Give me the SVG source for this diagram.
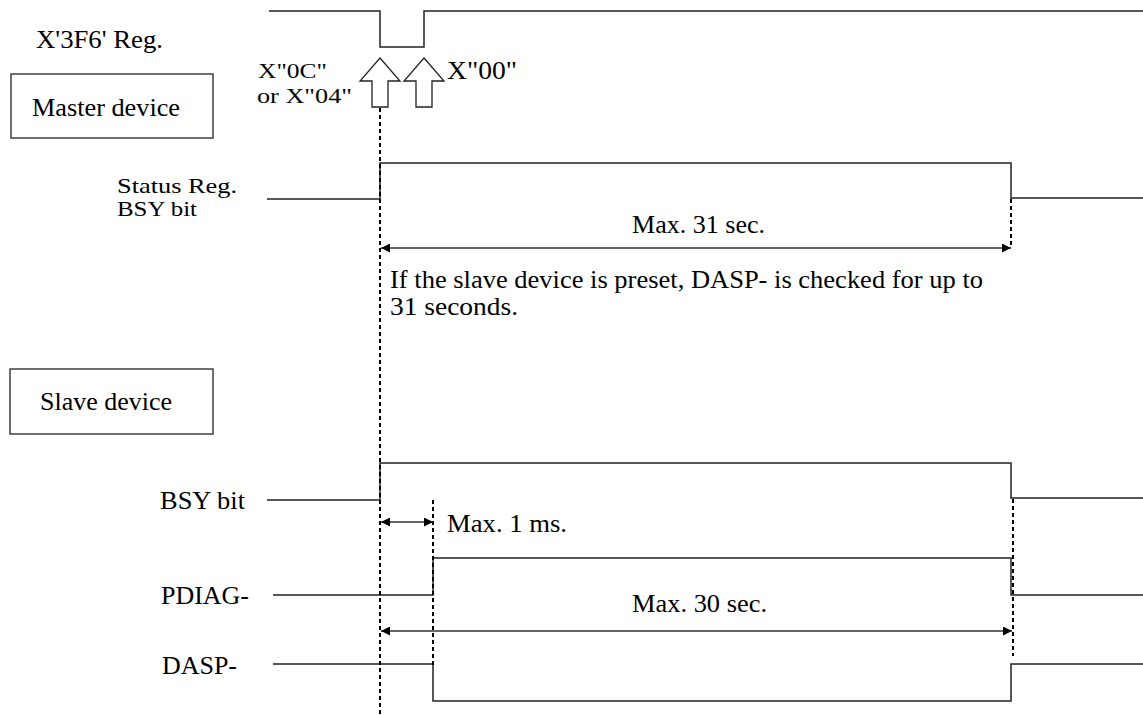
<svg xmlns="http://www.w3.org/2000/svg" width="1143" height="715" viewBox="0 0 1143 715" font-family="Liberation Serif">
<style>
text{font-family:"Liberation Serif",serif;font-size:25px;fill:#000}
.sm{font-size:22px}
.sig{fill:none;stroke:#222;stroke-width:1.5}
.dot{fill:none;stroke:#000;stroke-width:2;stroke-dasharray:4 3}
.dim{fill:none;stroke:#333;stroke-width:1.5;marker-start:url(#ah);marker-end:url(#ah)}
.box{fill:#fff;stroke:#222;stroke-width:1.3}
.harrow{fill:#fff;stroke:#222;stroke-width:1.3}
</style>
<defs>
<marker id="ah" viewBox="0 0 10 10" refX="10" refY="5" markerWidth="10" markerHeight="9" markerUnits="userSpaceOnUse" orient="auto-start-reverse">
<path d="M0,0 L10,5 L0,10 Z" fill="#000"/>
</marker>
</defs>
<rect width="1143" height="715" fill="#fff"/>

<g id="reg3f6">
<text x="36" y="48" textLength="127" lengthAdjust="spacingAndGlyphs">X'3F6' Reg.</text>
<path class="sig" d="M269,11 H380 V47 H424 V11 H1143"/>
<polygon class="harrow" points="380,58 400,81 388,81 388,107 372,107 372,81 360,81"/>
<polygon class="harrow" points="424,58 444,81 432,81 432,107 416,107 416,81 404,81"/>
<text class="sm" x="258" y="78" textLength="69" lengthAdjust="spacingAndGlyphs">X"0C"</text>
<text class="sm" x="257" y="103" textLength="95" lengthAdjust="spacingAndGlyphs">or X"04"</text>
<text x="447" y="79" textLength="70" lengthAdjust="spacingAndGlyphs">X"00"</text>
</g>

<g id="master">
<rect class="box" x="11" y="74" width="202" height="64"/>
<text x="32" y="116" textLength="148" lengthAdjust="spacingAndGlyphs">Master device</text>
</g>

<g id="status-bsy">
<text class="sm" x="117" y="193" textLength="120" lengthAdjust="spacingAndGlyphs">Status Reg.</text>
<text class="sm" x="117" y="216" textLength="80" lengthAdjust="spacingAndGlyphs">BSY bit</text>
<path class="sig" d="M267,199 H380 V163 H1011 V198 H1143"/>
</g>

<g id="slave">
<rect class="box" x="10" y="369" width="203" height="65"/>
<text x="40" y="410" textLength="132" lengthAdjust="spacingAndGlyphs">Slave device</text>
</g>

<g id="slave-bsy">
<text x="160" y="509" textLength="85" lengthAdjust="spacingAndGlyphs">BSY bit</text>
<path class="sig" d="M267,500 H380 V463 H1011 V498 H1143"/>
</g>

<g id="pdiag">
<text x="161" y="604" textLength="88" lengthAdjust="spacingAndGlyphs">PDIAG-</text>
<path class="sig" d="M273,595 H433 V558 H1011 V595 H1143"/>
</g>

<g id="dasp">
<text x="162" y="674" textLength="75" lengthAdjust="spacingAndGlyphs">DASP-</text>
<path class="sig" d="M273,664 H433 V701 H1011 V664 H1143"/>
</g>

<g id="connectors">
<line class="dot" x1="380" y1="108" x2="380" y2="715"/>
<line class="dot" x1="1011" y1="199" x2="1011" y2="248"/>
<line class="dot" x1="433" y1="500" x2="433" y2="666"/>
<line class="dot" x1="1013" y1="499" x2="1013" y2="656"/>
<line class="dim" x1="381" y1="248" x2="1011" y2="248"/>
<line class="dim" x1="381" y1="522" x2="433" y2="522"/>
<line class="dim" x1="381" y1="631" x2="1012" y2="631"/>
</g>

<g id="labels">
<text x="632" y="233" textLength="133" lengthAdjust="spacingAndGlyphs">Max. 31 sec.</text>
<text x="390" y="288" textLength="593" lengthAdjust="spacingAndGlyphs">If the slave device is preset, DASP- is checked for up to</text>
<text x="390" y="315" textLength="128" lengthAdjust="spacingAndGlyphs">31 seconds.</text>
<text x="447" y="532" textLength="120" lengthAdjust="spacingAndGlyphs">Max. 1 ms.</text>
<text x="632" y="612" textLength="135" lengthAdjust="spacingAndGlyphs">Max. 30 sec.</text>
</g>
</svg>
